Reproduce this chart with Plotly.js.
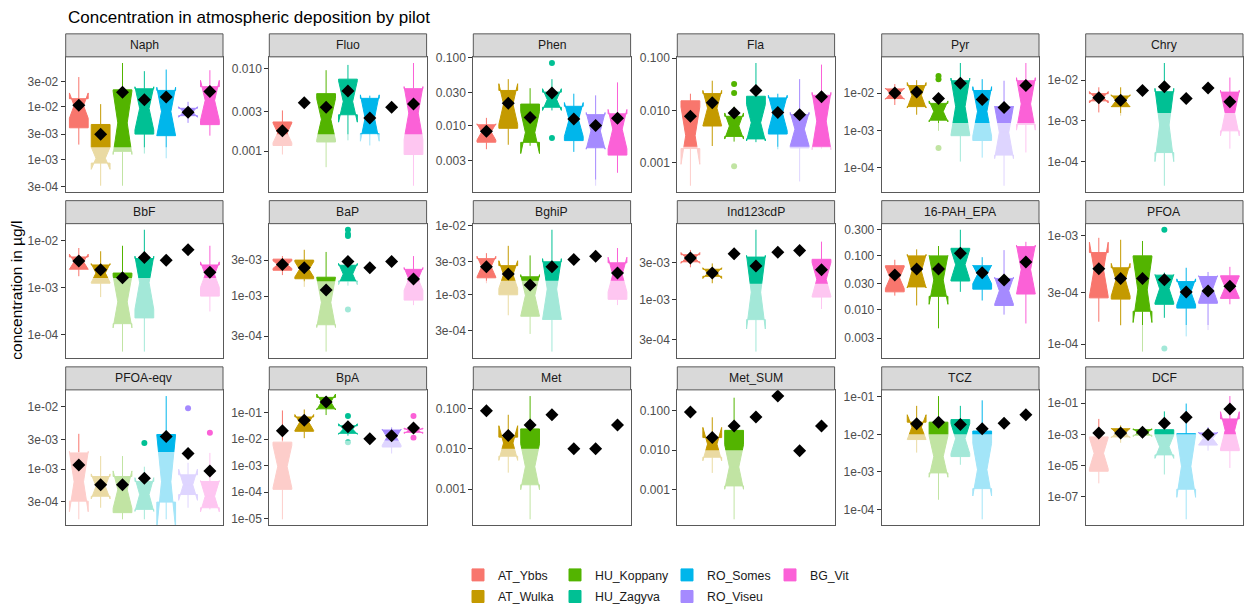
<!DOCTYPE html>
<html>
<head>
<meta charset="utf-8">
<script src="https://cdn.plot.ly/plotly-3.0.1.min.js"></script>
<style>
  html, body { margin: 0; padding: 0; background: #ffffff; }
  #chart { width: 1245px; height: 611px; }
</style>
</head>
<body>
<div id="chart"></div>
<script>
// Sampling sites (pilots) and their colours
const pilots = ['AT_Ybbs', 'AT_Wulka', 'HU_Koppany', 'HU_Zagyva', 'RO_Somes', 'RO_Viseu', 'BG_Vit'];
const pilotColors = ['#F8766D', '#C49A00', '#53B400', '#00C094', '#00B6EB', '#A58AFF', '#FB61D7'];

// Measured parameters, one facet each
const parameters = ['Naph', 'Fluo', 'Phen', 'Fla', 'Pyr', 'Chry',
                    'BbF', 'BaP', 'BghiP', 'Ind123cdP', '16-PAH_EPA', 'PFOA',
                    'PFOA-eqv', 'BpA', 'Met', 'Met_SUM', 'TCZ', 'DCF'];

// Limit of quantification per parameter (µg/l); values below are shaded
const loq = [1.7e-3, 1.6e-3, 1.6e-3, 2.0e-3, 1.6e-3, 1.55e-3,
             1.6e-3, 1.58e-3, 1.6e-3, 1.6e-3, 1.69e-3, 1.5e-4,
             1.9e-3, 8.9e-3, 1e-2, 1e-2, 1e-2, 1e-3];

// Tick labels of each facet's y axis
const tickLabels = [
  ['3e-04', '1e-03', '3e-03', '1e-02', '3e-02'],
  ['0.001', '0.003', '0.010'],
  ['0.003', '0.010', '0.030', '0.100'],
  ['0.001', '0.010', '0.100'],
  ['1e-04', '1e-03', '1e-02'],
  ['1e-04', '1e-03', '1e-02'],
  ['1e-04', '1e-03', '1e-02'],
  ['3e-04', '1e-03', '3e-03'],
  ['3e-04', '1e-03', '3e-03', '1e-02'],
  ['3e-04', '1e-03', '3e-03'],
  ['0.003', '0.010', '0.030', '0.100', '0.300'],
  ['1e-04', '3e-04', '1e-03'],
  ['3e-04', '1e-03', '3e-03', '1e-02'],
  ['1e-05', '1e-04', '1e-03', '1e-02', '1e-01'],
  ['0.001', '0.010', '0.100'],
  ['0.001', '0.010', '0.100'],
  ['1e-04', '1e-03', '1e-02', '1e-01'],
  ['1e-07', '1e-05', '1e-03', '1e-01']
];

// Box statistics, rows = parameters, columns = pilots (null = no box)
const whiskerLow = [
  [1.91e-3, 3.16e-4, 3.16e-4, 1.29e-3, 1.05e-3, 4.93e-3, 2.82e-3],
  [9.1e-4, null, 6.4e-4, 1.35e-3, 1.17e-3, null, 3.82e-4],
  [4.45e-3, 5.18e-3, 5.0e-3, 1.66e-2, 4.07e-3, 1.29e-3, 2.0e-3],
  [3.58e-4, 2.07e-3, 2.51e-3, 2.45e-3, 1.79e-3, 4.32e-4, 1.85e-3],
  [4.8e-3, 2.64e-3, 9.8e-4, 1.48e-4, 1.89e-4, 3.36e-5, 2.59e-4],
  [1.61e-3, 1.34e-3, null, 2.54e-5, null, null, 2.07e-4],
  [1.74e-3, 6.3e-4, 4.44e-5, 4.44e-5, null, null, 3.13e-4],
  [1.9e-3, 1.33e-3, 1.87e-4, 1.38e-3, null, null, 7.64e-4],
  [1.47e-3, 5.06e-4, 2.72e-4, 1.51e-4, null, null, 7.1e-4],
  [2.62e-3, 1.62e-3, null, 2.08e-4, null, null, 7.48e-4],
  [1.82e-2, 1.2e-2, 4.54e-3, 2.14e-2, 1.48e-2, 8.13e-3, 5.58e-3],
  [1.61e-4, 1.48e-4, 8.55e-5, 1.75e-4, 1.18e-4, 1.35e-4, 2.33e-4],
  [1.58e-4, 2.42e-4, 1.58e-4, 1.58e-4, 1.58e-4, 2.42e-4, 2.28e-4],
  [9.55e-6, 1.1e-2, 8.2e-2, 1.37e-2, null, 2.9e-3, 1.58e-2],
  [null, 2.56e-3, 1.78e-4, null, null, null, null],
  [null, 2.68e-3, 1.82e-4, null, null, null, null],
  [null, 3.26e-3, 1.82e-4, 1.55e-3, 5.5e-5, null, null],
  [6.95e-7, 2.84e-4, 5.32e-4, 2.58e-6, 3.36e-9, 8.85e-5, 6.79e-6]
];

const lowerHinge = [
  [3.98e-3, 8.5e-4, 1.42e-3, 3.02e-3, 2.82e-3, 6.76e-3, 4.57e-3],
  [1.17e-3, null, 1.29e-3, 2.75e-3, 1.62e-3, null, 9.1e-4],
  [5.65e-3, 9.06e-3, 5.62e-3, 1.85e-2, 5.97e-3, 4.68e-3, 3.65e-3],
  [1.85e-3, 5.0e-3, 3.16e-3, 2.83e-3, 3.51e-3, 1.9e-3, 1.98e-3],
  [7.13e-3, 4.35e-3, 1.89e-3, 7.28e-4, 5.41e-4, 2.21e-4, 1.46e-3],
  [3.1e-3, 2.23e-3, null, 1.66e-4, null, null, 5.68e-4],
  [2.45e-3, 1.24e-3, 1.73e-4, 2.29e-4, null, null, 6.61e-4],
  [2.2e-3, 1.7e-3, 4.22e-4, 1.58e-3, null, null, 8.9e-4],
  [1.76e-3, 1.0e-3, 4.9e-4, 4.41e-4, null, null, 8.6e-4],
  [3.09e-3, 2.0e-3, null, 5.44e-4, null, null, 1.07e-3],
  [2.14e-2, 2.64e-2, 1.77e-2, 3.39e-2, 2.4e-2, 1.2e-2, 1.95e-2],
  [2.67e-4, 2.6e-4, 2.01e-4, 2.33e-4, 2.15e-4, 2.38e-4, 2.64e-4],
  [3.09e-4, 3.7e-4, 2.02e-4, 2.28e-4, 2.98e-4, 3.94e-4, 2.42e-4],
  [1.29e-4, 2.0e-2, 0.141, 1.68e-2, null, 5.1e-3, 1.83e-2],
  [null, 6.55e-3, 1.28e-3, null, null, null, null],
  [null, 6.65e-3, 1.26e-3, null, null, null, null],
  [null, 7.26e-3, 9.42e-4, 2.56e-3, 3.6e-4, null, null],
  [4.18e-6, 6.79e-4, 8.65e-4, 4.72e-5, 2.9e-7, 2.02e-4, 8.85e-5]
];

const medians = [
  [1.05e-2, 1.05e-3, 4.93e-3, 9.3e-3, 8.1e-3, 7.94e-3, 1.32e-2],
  [1.66e-3, null, 2.42e-3, 3.98e-3, 2.51e-3, null, 2.88e-3],
  [8.0e-3, 2.06e-2, 7.85e-3, 2.4e-2, 1.22e-2, 8.3e-3, 8.8e-3],
  [3.27e-3, 1.1e-2, 5.0e-3, 5.78e-3, 8.85e-3, 4.35e-3, 6.21e-3],
  [9.62e-3, 8.71e-3, 3.24e-3, 4.37e-3, 3.24e-3, 8.9e-4, 5.13e-3],
  [3.8e-3, 3.1e-3, null, 7.9e-4, null, null, 1.55e-3],
  [3.52e-3, 2.03e-3, 5.0e-4, 1.27e-3, null, null, 1.88e-3],
  [2.61e-3, 2.26e-3, 8.3e-4, 1.96e-3, null, null, 1.69e-3],
  [2.55e-3, 1.96e-3, 9.8e-4, 1.21e-3, null, null, 1.96e-3],
  [3.47e-3, 2.2e-3, null, 1.24e-3, null, null, 1.82e-3],
  [3.89e-2, 5.14e-2, 3.55e-2, 6.78e-2, 4.48e-2, 2.24e-2, 5.51e-2],
  [4.88e-4, 3.92e-4, 3.16e-4, 3.24e-4, 3.03e-4, 3.24e-4, 3.35e-4],
  [6.31e-4, 5.32e-4, 4.72e-4, 3.94e-4, 6.31e-4, 5.66e-4, 3.7e-4],
  [9.33e-4, 4.28e-2, 0.255, 2.43e-2, null, 1.19e-2, 2.1e-2],
  [null, 1.39e-2, 3.59e-3, null, null, null, null],
  [null, 1.42e-2, 3.77e-3, null, null, null, null],
  [null, 1.55e-2, 2.56e-3, 7.7e-3, 1.15e-3, null, null],
  [6.03e-5, 1.21e-3, 1.27e-3, 1.58e-4, 8.71e-6, 5.32e-4, 1.79e-3]
];

const upperHinge = [
  [1.42e-2, 4.6e-3, 2.09e-2, 2.19e-2, 2.04e-2, 9.33e-3, 2.4e-2],
  [2.25e-3, null, 4.95e-3, 7.4e-3, 4.34e-3, null, 5.68e-3],
  [1.02e-2, 3.27e-2, 2.06e-2, 3.09e-2, 1.91e-2, 1.44e-2, 1.48e-2],
  [1.52e-2, 2.09e-2, 7.67e-3, 1.86e-2, 1.73e-2, 8.24e-3, 1.94e-2],
  [1.29e-2, 1.58e-2, 5.3e-3, 2.13e-2, 1.17e-2, 4.35e-3, 2.13e-2],
  [4.65e-3, 4.08e-3, null, 5.2e-3, null, null, 5.08e-3],
  [4.44e-3, 3.01e-3, 2.03e-3, 4.11e-3, null, null, 3.01e-3],
  [3.08e-3, 2.99e-3, 1.78e-3, 2.56e-3, null, null, 2.26e-3],
  [3.33e-3, 2.64e-3, 1.82e-3, 3.0e-3, null, null, 2.9e-3],
  [3.82e-3, 2.47e-3, null, 3.56e-3, null, null, 3.33e-3],
  [6.5e-2, 9.86e-2, 9.86e-2, 0.136, 6.5e-2, 3.78e-2, 0.146],
  [6.97e-4, 5.05e-4, 6.5e-4, 4.32e-4, 3.77e-4, 4.2e-4, 4.26e-4],
  [1.83e-3, 7.66e-4, 7.66e-4, 6.38e-4, 3.61e-3, 8.15e-4, 6.38e-4],
  [7.8e-3, 6.92e-2, 0.38, 3.22e-2, null, 2.23e-2, 2.43e-2],
  [null, 1.95e-2, 3.12e-2, null, null, null, null],
  [null, 2.07e-2, 3.15e-2, null, null, null, null],
  [null, 2.1e-2, 2.1e-2, 2.46e-2, 1.22e-2, null, null],
  [6.79e-4, 2.28e-3, 1.97e-3, 1.97e-3, 1.1e-3, 1.21e-3, 9.77e-3]
];

const whiskerHigh = [
  [3.66e-2, 1.12e-2, 6.76e-2, 4.73e-2, 5.08e-2, 1.24e-2, 4.93e-2],
  [3.1e-3, null, 9.5e-3, 1.1e-2, 4.68e-3, null, 1.16e-2],
  [1.29e-2, 4.8e-2, 3.53e-2, 4.8e-2, 2.93e-2, 2.77e-2, 4.3e-2],
  [2.08e-2, 3.69e-2, 1.17e-2, 8.07e-2, 2.08e-2, 3.96e-2, 7.52e-2],
  [1.74e-2, 2.21e-2, 5.85e-3, 6.34e-2, 2.35e-2, 2.13e-2, 6.34e-2],
  [6.68e-3, 6.68e-3, null, 2.64e-2, null, null, 1.16e-2],
  [6.87e-3, 5.87e-3, 7.67e-3, 1.67e-2, null, null, 7.67e-3],
  [3.38e-3, 4.09e-3, 3.83e-3, 3.16e-3, null, null, 3.38e-3],
  [4.0e-3, 5.1e-3, 3.71e-3, 8.71e-3, null, null, 4.74e-3],
  [4.41e-3, 2.94e-3, null, 8.09e-3, null, null, 5.66e-3],
  [8.36e-2, 0.13, 0.15, 0.299, 9.33e-2, 0.126, 0.179],
  [9.53e-4, 9.14e-4, 8.91e-4, 4.56e-4, 5.05e-4, 4.62e-4, 5.15e-4],
  [3.7e-3, 1.63e-3, 1.63e-3, 1.1e-3, 1.49e-2, 1.27e-3, 1.83e-3],
  [0.122, 0.133, 0.427, 4.92e-2, null, 2.79e-2, 2.82e-2],
  [null, 7.0e-2, 0.204, null, null, null, null],
  [null, 6.71e-2, 0.209, null, null, null, null],
  [null, 5.71e-2, 0.104, 5.71e-2, 8.0e-2, null, null],
  [9.77e-3, 3.7e-3, 2.64e-3, 2.98e-2, 9.53e-2, 2.9e-3, 0.29]
];

// Half-width of the median notch, in decades
const notchDecades = [
  [0.24, 0.21, 0.6, 0.41, 0.46, 0.1, 0.38],
  [0.12, null, 0.25, 0.25, 0.28, null, 0.32],
  [0.12, 0.3, 0.31, 0.16, 0.25, 0.27, 0.29],
  [0.55, 0.34, 0.25, 0.35, 0.34, 0.32, 0.55],
  [0.15, 0.34, 0.28, 0.76, 0.66, 0.7, 0.7],
  [0.14, 0.15, null, 0.9, null, null, 0.56],
  [0.16, 0.2, 0.55, 0.56, null, null, 0.27],
  [0.05, 0.1, 0.33, 0.14, null, null, 0.15],
  [0.15, 0.2, 0.3, 0.44, null, null, 0.25],
  [0.07, 0.07, null, 0.48, null, null, 0.22],
  [0.2, 0.31, 0.45, 0.28, 0.17, 0.25, 0.45],
  [0.25, 0.15, 0.3, 0.13, 0.12, 0.12, 0.1],
  [0.48, 0.2, 0.3, 0.27, 0.75, 0.25, 0.25],
  [0.8, 0.3, 0.3, 0.2, null, 0.3, 0.1],
  [null, 0.43, 0.57, null, null, null, null],
  [null, 0.42, 0.56, null, null, null, null],
  [null, 0.33, 0.55, 0.4, 0.7, null, null],
  [1.0, 0.3, 0.25, 0.75, 2.0, 0.4, 1.2]
];

// Arithmetic means (black diamonds)
const means = [
  [1.07e-2, 3.0e-3, 1.89e-2, 1.36e-2, 1.53e-2, 7.87e-3, 1.95e-2],
  [1.76e-3, 3.85e-3, 3.4e-3, 5.33e-3, 2.52e-3, 3.4e-3, 3.72e-3],
  [8.2e-3, 2.11e-2, 1.31e-2, 2.99e-2, 1.24e-2, 1.0e-2, 1.27e-2],
  [7.67e-3, 1.4e-2, 8.85e-3, 2.4e-2, 9.12e-3, 8.24e-3, 1.81e-2],
  [1.0e-2, 1.06e-2, 7.13e-3, 1.82e-2, 6.73e-3, 4.09e-3, 1.58e-2],
  [3.72e-3, 3.22e-3, 5.57e-3, 6.93e-3, 3.53e-3, 6.46e-3, 2.94e-3],
  [3.63e-3, 2.38e-3, 1.61e-3, 4.31e-3, 3.8e-3, 6.35e-3, 2.1e-3],
  [2.61e-3, 2.37e-3, 1.21e-3, 2.87e-3, 2.37e-3, 2.87e-3, 1.69e-3],
  [2.55e-3, 2.0e-3, 1.38e-3, 2.55e-3, 3.23e-3, 3.6e-3, 2.07e-3],
  [3.47e-3, 2.2e-3, 3.93e-3, 2.72e-3, 4.12e-3, 4.33e-3, 2.43e-3],
  [4.36e-2, 5.66e-2, 5.66e-2, 0.11, 4.8e-2, 3.53e-2, 7.59e-2],
  [4.94e-4, 4.03e-4, 4.03e-4, 3.92e-4, 3.03e-4, 3.09e-4, 3.42e-4],
  [1.17e-3, 5.66e-4, 5.66e-4, 7.21e-4, 3.36e-3, 1.79e-3, 9.42e-4],
  [2.1e-2, 5.21e-2, 0.255, 2.96e-2, 1.04e-2, 1.37e-2, 2.64e-2],
  [8.77e-2, 2.14e-2, 3.91e-2, 7.0e-2, 1.0e-2, 1.0e-2, 3.91e-2],
  [9.1e-2, 2.07e-2, 4.03e-2, 6.84e-2, 0.23, 9.73e-3, 4.03e-2],
  [null, 1.9e-2, 2.1e-2, 1.82e-2, 1.41e-2, 1.98e-2, 3.33e-2],
  [1.21e-3, 1.21e-3, 1.34e-3, 5.2e-3, 1.24e-2, 9.53e-4, 4.18e-2]
];

// Outlying observations: facet index, pilot index, value
const outlierParam = [2, 2, 3, 3, 3, 4, 4, 4, 7, 7, 7, 7, 11, 11, 12, 12, 12, 13, 13, 13, 13];
const outlierPilot = [3, 3, 2, 2, 2, 2, 2, 2, 3, 3, 3, 3, 3, 3, 3, 5, 6, 3, 3, 6, 6];
const outlierValue = [8.3e-2, 6.5e-3, 3.2e-2, 2.14e-2, 8.5e-4, 2.86e-2, 2.35e-2, 3.42e-4,
                      7.5e-3, 6.6e-3, 6.2e-3, 6.7e-4, 1.13e-3, 9.14e-5,
                      2.64e-3, 9.53e-3, 3.84e-3, 7.53e-2, 7.8e-3, 7.53e-2, 1.13e-2];

// ---- page geometry (pixels) ----
const W = 1245, H = 611;
const FONT = '"Liberation Sans", Arial, Helvetica, sans-serif';
const colLeft = [65.7, 269.3, 473.3, 677.3, 881.7, 1085.7];
const panelWidth = 157.3;
const rowTop = [58.3, 229.3, 399.7];
const rowBottom = [196.7, 366.7, 538.7];
const stripHeight = 23.6;
const BORDER = '#595959';
const lg = v => Math.log10(v);
const xRange = [0.4, 7.6];

// legend keys laid out column-wise in four columns of two rows
const legendColX = [458, 555, 667, 770];
const legendRowY = [574.5, 597];

const traces = [];
const layout = {
  width: W, height: H,
  margin: { l: 0, r: 0, t: 0, b: 0 },
  paper_bgcolor: '#ffffff', plot_bgcolor: '#ffffff',
  font: { family: FONT, color: '#1a1a1a' },
  boxmode: 'overlay',
  showlegend: true,
  shapes: [], annotations: []
};
pilots.forEach((name, k) => {
  const key = k === 0 ? 'legend' : 'legend' + (k + 1);
  layout[key] = {
    x: legendColX[Math.floor(k / 2)] / W, y: 1 - legendRowY[k % 2] / H,
    xanchor: 'left', yanchor: 'top',
    font: { size: 12.3, color: '#1a1a1a', family: FONT },
    bgcolor: 'rgba(0,0,0,0)', borderwidth: 0
  };
});

parameters.forEach((name, p) => {
  const r = Math.floor(p / 6), c = p % 6;
  const sfx = p === 0 ? '' : String(p + 1);
  const xa = 'x' + sfx, ya = 'y' + sfx;

  // y range spans every plotted value plus the LOQ, padded by 5 %
  const vals = [loq[p]];
  for (let k = 0; k < pilots.length; k++) {
    [whiskerLow, whiskerHigh, means].forEach(arr => { if (arr[p][k] != null) vals.push(arr[p][k]); });
  }
  outlierParam.forEach((op, i) => { if (op === p) vals.push(outlierValue[i]); });
  const logs = vals.map(lg);
  const lo = Math.min(...logs), hi = Math.max(...logs);
  const pad = 0.05 * (hi - lo);
  const yRange = [lo - pad, hi + pad];

  layout['xaxis' + sfx] = {
    domain: [colLeft[c] / W, (colLeft[c] + panelWidth) / W],
    range: xRange, anchor: ya,
    showticklabels: false, ticks: '', showgrid: false, zeroline: false,
    showline: true, mirror: true, linecolor: BORDER, linewidth: 1, fixedrange: true
  };
  layout['yaxis' + sfx] = {
    domain: [1 - rowBottom[r] / H, 1 - rowTop[r] / H],
    range: yRange, anchor: xa,
    tickmode: 'array',
    tickvals: tickLabels[p].map(t => lg(parseFloat(t))),
    ticktext: tickLabels[p],
    ticks: 'outside', ticklen: 4, tickwidth: 1, tickcolor: '#333333',
    tickfont: { size: 12, color: '#4d4d4d', family: FONT },
    showgrid: false, zeroline: false,
    showline: true, mirror: true, linecolor: BORDER, linewidth: 1, fixedrange: true
  };

  // facet strip
  layout.shapes.push({
    type: 'rect', xref: 'paper', yref: 'paper', layer: 'above',
    x0: colLeft[c] / W, x1: (colLeft[c] + panelWidth) / W,
    y0: 1 - rowTop[r] / H, y1: 1 - (rowTop[r] - stripHeight) / H,
    fillcolor: '#d9d9d9', line: { color: BORDER, width: 1 }
  });
  layout.annotations.push({
    text: name, xref: 'paper', yref: 'paper', showarrow: false,
    x: (colLeft[c] + panelWidth / 2) / W, y: 1 - (rowTop[r] - stripHeight / 2) / H,
    xanchor: 'center', yanchor: 'middle', font: { size: 12.2, color: '#1a1a1a', family: FONT }
  });

  // notched boxes (waist at half the box width)
  for (let k = 0; k < pilots.length; k++) {
    if (medians[p][k] == null) continue;
    traces.push({
      type: 'box', xaxis: xa, yaxis: ya,
      name: pilots[k],
      x: [k + 1],
      q1: [lg(lowerHinge[p][k])], median: [lg(medians[p][k])], q3: [lg(upperHinge[p][k])],
      lowerfence: [lg(whiskerLow[p][k])], upperfence: [lg(whiskerHigh[p][k])],
      notched: true, notchspan: [notchDecades[p][k]], notchwidth: 0.25,
      width: 0.86, whiskerwidth: 0, boxpoints: 'outliers',
      fillcolor: pilotColors[k], line: { color: pilotColors[k], width: 1 },
      showlegend: p === 0,
      legend: k === 0 ? 'legend' : 'legend' + (k + 1),
      hoverinfo: 'skip'
    });
  }

  // outliers
  const ox = [], oy = [], oc = [];
  outlierParam.forEach((op, i) => {
    if (op !== p) return;
    ox.push(outlierPilot[i] + 1); oy.push(lg(outlierValue[i])); oc.push(pilotColors[outlierPilot[i]]);
  });
  if (ox.length) {
    traces.push({
      type: 'scatter', mode: 'markers', xaxis: xa, yaxis: ya, x: ox, y: oy,
      marker: { color: oc, size: 6, symbol: 'circle' }, showlegend: false, hoverinfo: 'skip'
    });
  }

  // veil over the range below the LOQ
  traces.push({
    type: 'scatter', mode: 'lines', xaxis: xa, yaxis: ya,
    x: [xRange[0], xRange[1], xRange[1], xRange[0], xRange[0]],
    y: [yRange[0], yRange[0], lg(loq[p]), lg(loq[p]), yRange[0]],
    fill: 'toself', fillcolor: 'rgba(255,255,255,0.64)', line: { width: 0 },
    showlegend: false, hoverinfo: 'skip'
  });

  // means
  const mx = [], my = [];
  means[p].forEach((m, k) => { if (m != null) { mx.push(k + 1); my.push(lg(m)); } });
  traces.push({
    type: 'scatter', mode: 'markers', xaxis: xa, yaxis: ya, x: mx, y: my,
    marker: { color: '#000000', size: 10, symbol: 'diamond' }, showlegend: false, hoverinfo: 'skip'
  });
});

// plot title and shared y-axis title
layout.annotations.push({
  text: 'Concentration in atmospheric deposition by pilot', xref: 'paper', yref: 'paper', showarrow: false,
  x: 66 / W, y: 1 - 18 / H, xanchor: 'left', yanchor: 'middle',
  font: { size: 17, color: '#000000', family: FONT }
});
layout.annotations.push({
  text: 'concentration in µg/l', xref: 'paper', yref: 'paper', showarrow: false,
  x: 17 / W, y: 1 - 298 / H, xanchor: 'center', yanchor: 'middle', textangle: -90,
  font: { size: 15.5, color: '#000000', family: FONT }
});

Plotly.newPlot('chart', traces, layout, { staticPlot: true, displayModeBar: false });
</script>
</body>
</html>
